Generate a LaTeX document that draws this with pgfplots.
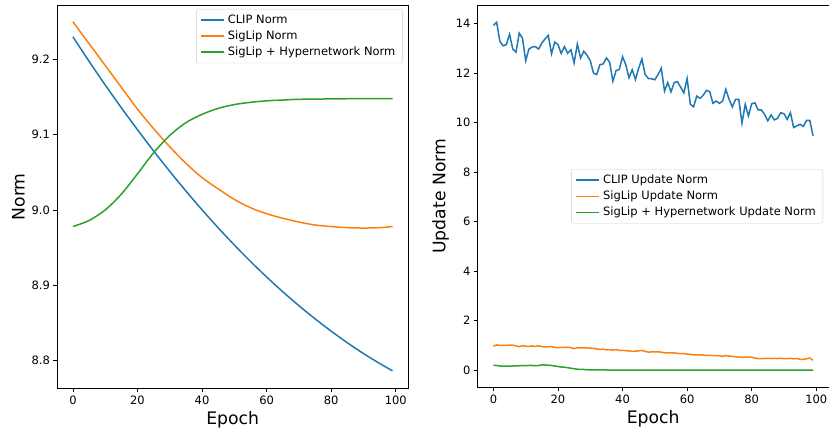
\documentclass[border=0pt]{standalone}
\usepackage{fontspec}
\setmainfont{DejaVu Sans}
\usepackage{pgfplots}
\pgfplotsset{compat=1.18}

\definecolor{tabblue}{HTML}{1F77B4}
\definecolor{taborange}{HTML}{FF7F0E}
\definecolor{tabgreen}{HTML}{2CA02C}

\pgfplotsset{
  mplaxis/.style={
    scale only axis, width=352pt, height=384pt,
    xmin=-4.95, xmax=103.95,
    tick align=outside, tick pos=left, major tick length=3.5pt,
    every tick/.style={black, line width=0.8pt},
    axis line style={line width=0.8pt},
    xtick={0,20,...,100},
    tick label style={font=\fontsize{11.5}{13}\selectfont},
    label style={font=\fontsize{17.25}{20}\selectfont},
    /pgf/number format/assume math mode=true,
    xlabel={Epoch},
    legend cell align=left,
    legend style={font=\fontsize{11.5}{13.5}\selectfont, draw=black!20, rounded corners=2pt,
      fill=white, fill opacity=0.8, text opacity=1, inner xsep=4pt, inner ysep=3pt,
      row sep=0pt, nodes={inner ysep=2.9pt, inner xsep=3pt}},
    every axis plot/.append style={line width=1.5pt},
  },
}

\begin{document}
\begin{tikzpicture}
\useasboundingbox (0pt,0pt) rectangle (830pt,430pt);

% left: parameter norm
\begin{axis}[mplaxis, at={(57pt,41pt)}, anchor=south west,
  ymin=8.7628, ymax=9.2723,
  ytick={8.8,8.9,9.0,9.1,9.2},
  yticklabel style={/pgf/number format/.cd, fixed, fixed zerofill, precision=1},
  ylabel={Norm},
  legend image code/.code={\draw[#1, line width=1.5pt] (0pt,0pt) -- (23pt,0pt);},
  legend style={at={(1,1)}, xshift=-6pt, yshift=-4pt, anchor=north east},
]
\addplot[tabblue, smooth] coordinates {
(0,9.2300)(5,9.1975)(10,9.1661)(15,9.1358)(20,9.1066)(25,9.0784)(30,9.0513)
(35,9.0252)(40,9.0002)(45,8.9763)(50,8.9535)(55,8.9317)(60,8.9110)(65,8.8914)
(70,8.8729)(75,8.8554)(80,8.8390)(85,8.8236)(90,8.8093)(95,8.7961)(99,8.7863)};
\addlegendentry{CLIP Norm}
\addplot[taborange, smooth] coordinates {
(0,9.250)(5,9.221)(10,9.192)(15,9.163)(20,9.134)(25,9.108)(30,9.084)
(35,9.062)(40,9.043)(45,9.028)(50,9.014)(55,9.003)(60,8.995)(65,8.989)
(70,8.984)(75,8.980)(80,8.978)(85,8.9765)(90,8.976)(95,8.9765)(99,8.978)};
\addlegendentry{SigLip Norm}
\addplot[tabgreen, smooth] coordinates {
(0,8.978)(5,8.986)(10,9.000)(15,9.021)(20,9.048)(25,9.076)(30,9.099)
(35,9.116)(40,9.127)(45,9.135)(50,9.140)(55,9.143)(60,9.145)(65,9.146)
(70,9.147)(80,9.1475)(90,9.148)(99,9.148)};
\addlegendentry{SigLip + Hypernetwork Norm}
\end{axis}

% right: update norm
\begin{axis}[mplaxis, at={(478pt,42pt)}, anchor=south west, height=383pt,
  ymin=-0.7, ymax=14.75,
  ytick={0,2,...,14},
  ylabel={Update Norm},
  legend image code/.code={\draw[#1, line width=1.5pt] (0pt,0pt) -- (23pt,0pt);},
  legend style={at={(1,0.5)}, xshift=-6pt, anchor=east},
]
\addplot[tabblue] coordinates {
(0,13.93)(1,14.05)(2,13.28)(3,13.10)(4,13.15)(5,13.57)(6,12.97)(7,12.85)(8,13.61)(9,13.41)
(10,12.50)(11,12.97)(12,13.05)(13,13.07)(14,12.97)(15,13.21)(16,13.38)(17,13.52)(18,12.78)(19,13.25)
(20,13.15)(21,12.79)(22,13.07)(23,12.80)(24,12.94)(25,12.41)(26,13.17)(27,12.61)(28,12.88)(29,12.72)
(30,12.50)(31,12.00)(32,11.94)(33,12.34)(34,12.37)(35,12.61)(36,12.44)(37,11.67)(38,12.10)(39,12.15)
(40,12.66)(41,12.34)(42,11.81)(43,12.14)(44,11.74)(45,12.20)(46,12.57)(47,11.94)(48,11.78)(49,11.77)
(50,11.73)(51,11.94)(52,12.20)(53,11.27)(54,11.62)(55,11.24)(56,11.62)(57,11.65)(58,11.43)(59,11.20)
(60,11.78)(61,10.74)(62,10.64)(63,11.07)(64,10.98)(65,11.11)(66,11.30)(67,11.25)(68,10.78)(69,10.87)
(70,10.78)(71,10.87)(72,11.34)(73,10.94)(74,10.63)(75,10.94)(76,10.94)(77,9.98)(78,10.74)(79,10.27)
(80,10.76)(81,10.80)(82,10.51)(83,10.51)(84,10.33)(85,10.07)(86,10.31)(87,10.11)(88,10.17)(89,10.40)
(90,10.36)(91,10.13)(92,10.40)(93,9.80)(94,9.87)(95,9.93)(96,9.85)(97,10.09)(98,10.09)(99,9.47)};
\addlegendentry{CLIP Update Norm}
\addplot[taborange] coordinates {
(0,0.97)(1,1.02)(2,1.00)(3,1.00)(4,1.00)(5,1.01)(6,1.01)(7,0.98)(8,0.95)(9,0.99)
(10,0.97)(11,0.96)(12,0.98)(13,0.96)(14,0.99)(15,0.95)(16,0.94)(17,0.95)(18,0.95)(19,0.92)
(20,0.91)(21,0.92)(22,0.92)(23,0.93)(24,0.91)(25,0.87)(26,0.91)(27,0.90)(28,0.90)(29,0.90)
(30,0.89)(31,0.88)(32,0.86)(33,0.84)(34,0.85)(35,0.82)(36,0.83)(37,0.81)(38,0.83)(39,0.80)
(40,0.80)(41,0.79)(42,0.78)(43,0.76)(44,0.77)(45,0.78)(46,0.80)(47,0.76)(48,0.73)(49,0.74)
(50,0.74)(51,0.74)(52,0.73)(53,0.70)(54,0.70)(55,0.70)(56,0.70)(57,0.68)(58,0.67)(59,0.67)
(60,0.65)(61,0.64)(62,0.62)(63,0.62)(64,0.62)(65,0.61)(66,0.60)(67,0.60)(68,0.59)(69,0.59)
(70,0.58)(71,0.56)(72,0.59)(73,0.57)(74,0.56)(75,0.54)(76,0.53)(77,0.52)(78,0.53)(79,0.53)
(80,0.52)(81,0.49)(82,0.47)(83,0.47)(84,0.47)(85,0.48)(86,0.47)(87,0.48)(88,0.47)(89,0.48)
(90,0.47)(91,0.47)(92,0.48)(93,0.46)(94,0.47)(95,0.44)(96,0.44)(97,0.46)(98,0.49)(99,0.40)};
\addlegendentry{SigLip Update Norm}
\addplot[tabgreen] coordinates {
(0,0.20)(1,0.19)(2,0.17)(3,0.16)(4,0.16)(5,0.16)(6,0.17)(7,0.17)(8,0.18)(9,0.18)
(10,0.18)(11,0.19)(12,0.19)(13,0.18)(14,0.19)(15,0.21)(16,0.21)(17,0.20)(18,0.19)(19,0.17)
(20,0.15)(21,0.13)(22,0.12)(23,0.10)(24,0.08)(25,0.06)(26,0.04)(27,0.03)(28,0.03)(29,0.02)
(30,0.01)(35,0.008)(40,0.005)(60,0.005)(80,0.005)(99,0.005)};
\addlegendentry{SigLip + Hypernetwork Update Norm}
\end{axis}
\end{tikzpicture}
\end{document}
